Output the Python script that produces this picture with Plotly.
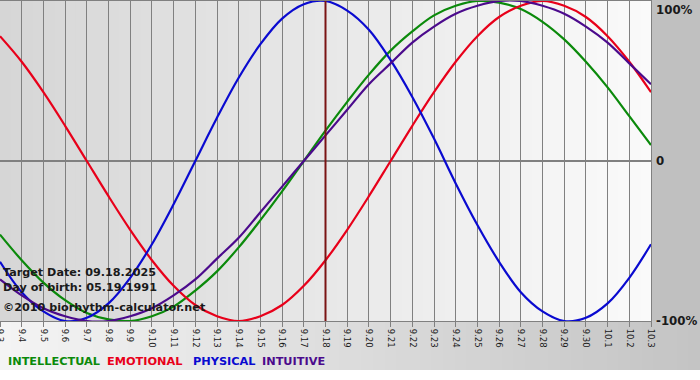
import plotly.graph_objects as go

# ---- data ----
dates = ["9.3", "9.4", "9.5", "9.6", "9.7", "9.8", "9.9", "9.10", "9.11", "9.12",
         "9.13", "9.14", "9.15", "9.16", "9.17", "9.18", "9.19", "9.20", "9.21", "9.22",
         "9.23", "9.24", "9.25", "9.26", "9.27", "9.28", "9.29", "9.30", "10.1", "10.2", "10.3"]
target_label = "9.18"
intellectual = [-0.46, -0.62, -0.76, -0.87, -0.95, -0.99, -1.00, -0.97, -0.91, -0.81, -0.69,
                -0.54, -0.37, -0.19, 0.00, 0.19, 0.37, 0.54, 0.69, 0.81, 0.91, 0.97, 1.00,
                0.99, 0.95, 0.87, 0.76, 0.62, 0.46, 0.28, 0.10]
emotional = [0.78, 0.62, 0.43, 0.22, 0.00, -0.22, -0.43, -0.62, -0.78, -0.90, -0.97, -1.00,
             -0.97, -0.90, -0.78, -0.62, -0.43, -0.22, 0.00, 0.22, 0.43, 0.62, 0.78, 0.90,
             0.97, 1.00, 0.97, 0.90, 0.78, 0.62, 0.43]
physical = [-0.63, -0.82, -0.94, -1.00, -0.98, -0.89, -0.73, -0.52, -0.27, 0.00, 0.27, 0.52,
            0.73, 0.89, 0.98, 1.00, 0.94, 0.82, 0.63, 0.40, 0.14, -0.14, -0.40, -0.63, -0.82,
            -0.94, -1.00, -0.98, -0.89, -0.73, -0.52]
intuitive = [-0.74, -0.84, -0.92, -0.97, -1.00, -1.00, -0.97, -0.92, -0.84, -0.74, -0.61,
             -0.48, -0.32, -0.16, 0.00, 0.16, 0.32, 0.48, 0.61, 0.74, 0.84, 0.92, 0.97, 1.00,
             1.00, 0.97, 0.92, 0.84, 0.74, 0.61, 0.48]
series_names = ["INTELLECTUAL", "EMOTIONAL", "PHYSICAL", "INTUITIVE"]
series_colors = ["#0b8a0b", "#e8001a", "#0a0ad0", "#4b0a8c"]
y_labels = ["100%", "0", "-100%"]
info_lines = ["Target Date: 09.18.2025", "Day of birth: 05.19.1991", "\u00a92010 biorhythm-calculator.net"]

# ---- layout geometry ----
FW, FH = 700, 380
ML, MR, MT, MB = 0, 49, 1, 59
PW, PH = FW - ML - MR, FH - MT - MB

x = list(range(len(dates)))
fig = go.Figure()


def lerp(c1, c2, t):
    return "rgb(%d,%d,%d)" % tuple(round(a + (b - a) * t) for a, b in zip(c1, c2))


shapes = []
# plot area gradient
N = 60
for i in range(N):
    t = i / (N - 1)
    shapes.append(dict(type="rect", xref="paper", yref="paper", x0=i / N, x1=(i + 1) / N + 0.002,
                       y0=0, y1=1, line=dict(width=0), fillcolor=lerp((214, 214, 214), (250, 250, 250), t),
                       layer="below"))
# bottom band gradient
bot0 = -(FH - MT - PH - 10) / PH
for i in range(N):
    t = i / (N - 1)
    shapes.append(dict(type="rect", xref="paper", yref="paper", x0=i / N * FW / PW, x1=(i + 1) / N * FW / PW + 0.003,
                       y0=bot0, y1=0, line=dict(width=0), fillcolor=lerp((244, 244, 244), (196, 196, 196), t),
                       layer="below"))
# right panel
shapes.append(dict(type="rect", xref="paper", yref="paper", x0=1, x1=FW / PW + 0.01, y0=0, y1=1.01,
                   line=dict(width=0), fillcolor="#c0c0c0", layer="below"))

for name, ys, col in zip(series_names, [intellectual, emotional, physical, intuitive], series_colors):
    fig.add_trace(go.Scatter(x=x, y=ys, mode="lines", name=name,
                             line=dict(color=col, width=2.2, shape="spline", smoothing=1),
                             cliponaxis=False, showlegend=False))

ti = dates.index(target_label)
shapes.append(dict(type="line", xref="x", yref="paper", x0=ti, x1=ti, y0=0, y1=1,
                   line=dict(color="#7a1414", width=2)))

annotations = []
for lab, yv, ya in zip(y_labels, [1, 0, -1], ["top", "middle", "middle"]):
    annotations.append(dict(text="<b>%s</b>" % lab, xref="paper", yref="y", x=1, y=yv,
                            xanchor="left", yanchor=ya, xshift=3, showarrow=False,
                            font=dict(family="DejaVu Sans", size=11.8, color="#1a1a1a")))
for txt, py in zip(info_lines, [272, 287, 307]):
    annotations.append(dict(text="<b>%s</b>" % txt, xref="paper", yref="paper", x=1 / PW,
                            y=(MT + PH - py) / PH, xanchor="left", yanchor="middle", showarrow=False,
                            font=dict(family="DejaVu Sans", size=11.2, color="#1a1a1a")))
for name, col, px in zip(series_names, series_colors, [6, 105, 191, 260]):
    annotations.append(dict(text="<b>%s</b>" % name, xref="paper", yref="paper", x=px / PW,
                            y=-(361 - MT - PH) / PH, xanchor="left", yanchor="middle", showarrow=False,
                            font=dict(family="DejaVu Sans", size=11.3, color=col)))

fig.update_layout(
    width=FW, height=FH, margin=dict(l=ML, r=MR, t=MT, b=MB),
    paper_bgcolor="white", plot_bgcolor="rgba(0,0,0,0)",
    shapes=shapes, annotations=annotations,
    xaxis=dict(range=[0, len(dates) - 1], tickvals=x, ticktext=dates, tickangle=90,
               showgrid=True, gridcolor="#808080", gridwidth=1, zeroline=False,
               showline=True, linecolor="#808080", mirror=True, automargin=False,
               ticklabeloverflow="allow",
               ticks="outside", ticklen=5, tickcolor="#808080",
               tickfont=dict(family="DejaVu Sans", size=8.5, color="#1a1a1a"), fixedrange=True),
    yaxis=dict(range=[-1, 1], tickvals=[-1, 0, 1], showticklabels=False, automargin=False,
               showgrid=True, gridcolor="#808080", zeroline=True, zerolinecolor="#808080",
               showline=True, linecolor="#808080", mirror=True, fixedrange=True),
)

fig.write_html("out.html", config={"displayModeBar": False},
               post_script="document.body.style.margin='0';document.body.style.overflow='hidden';")
